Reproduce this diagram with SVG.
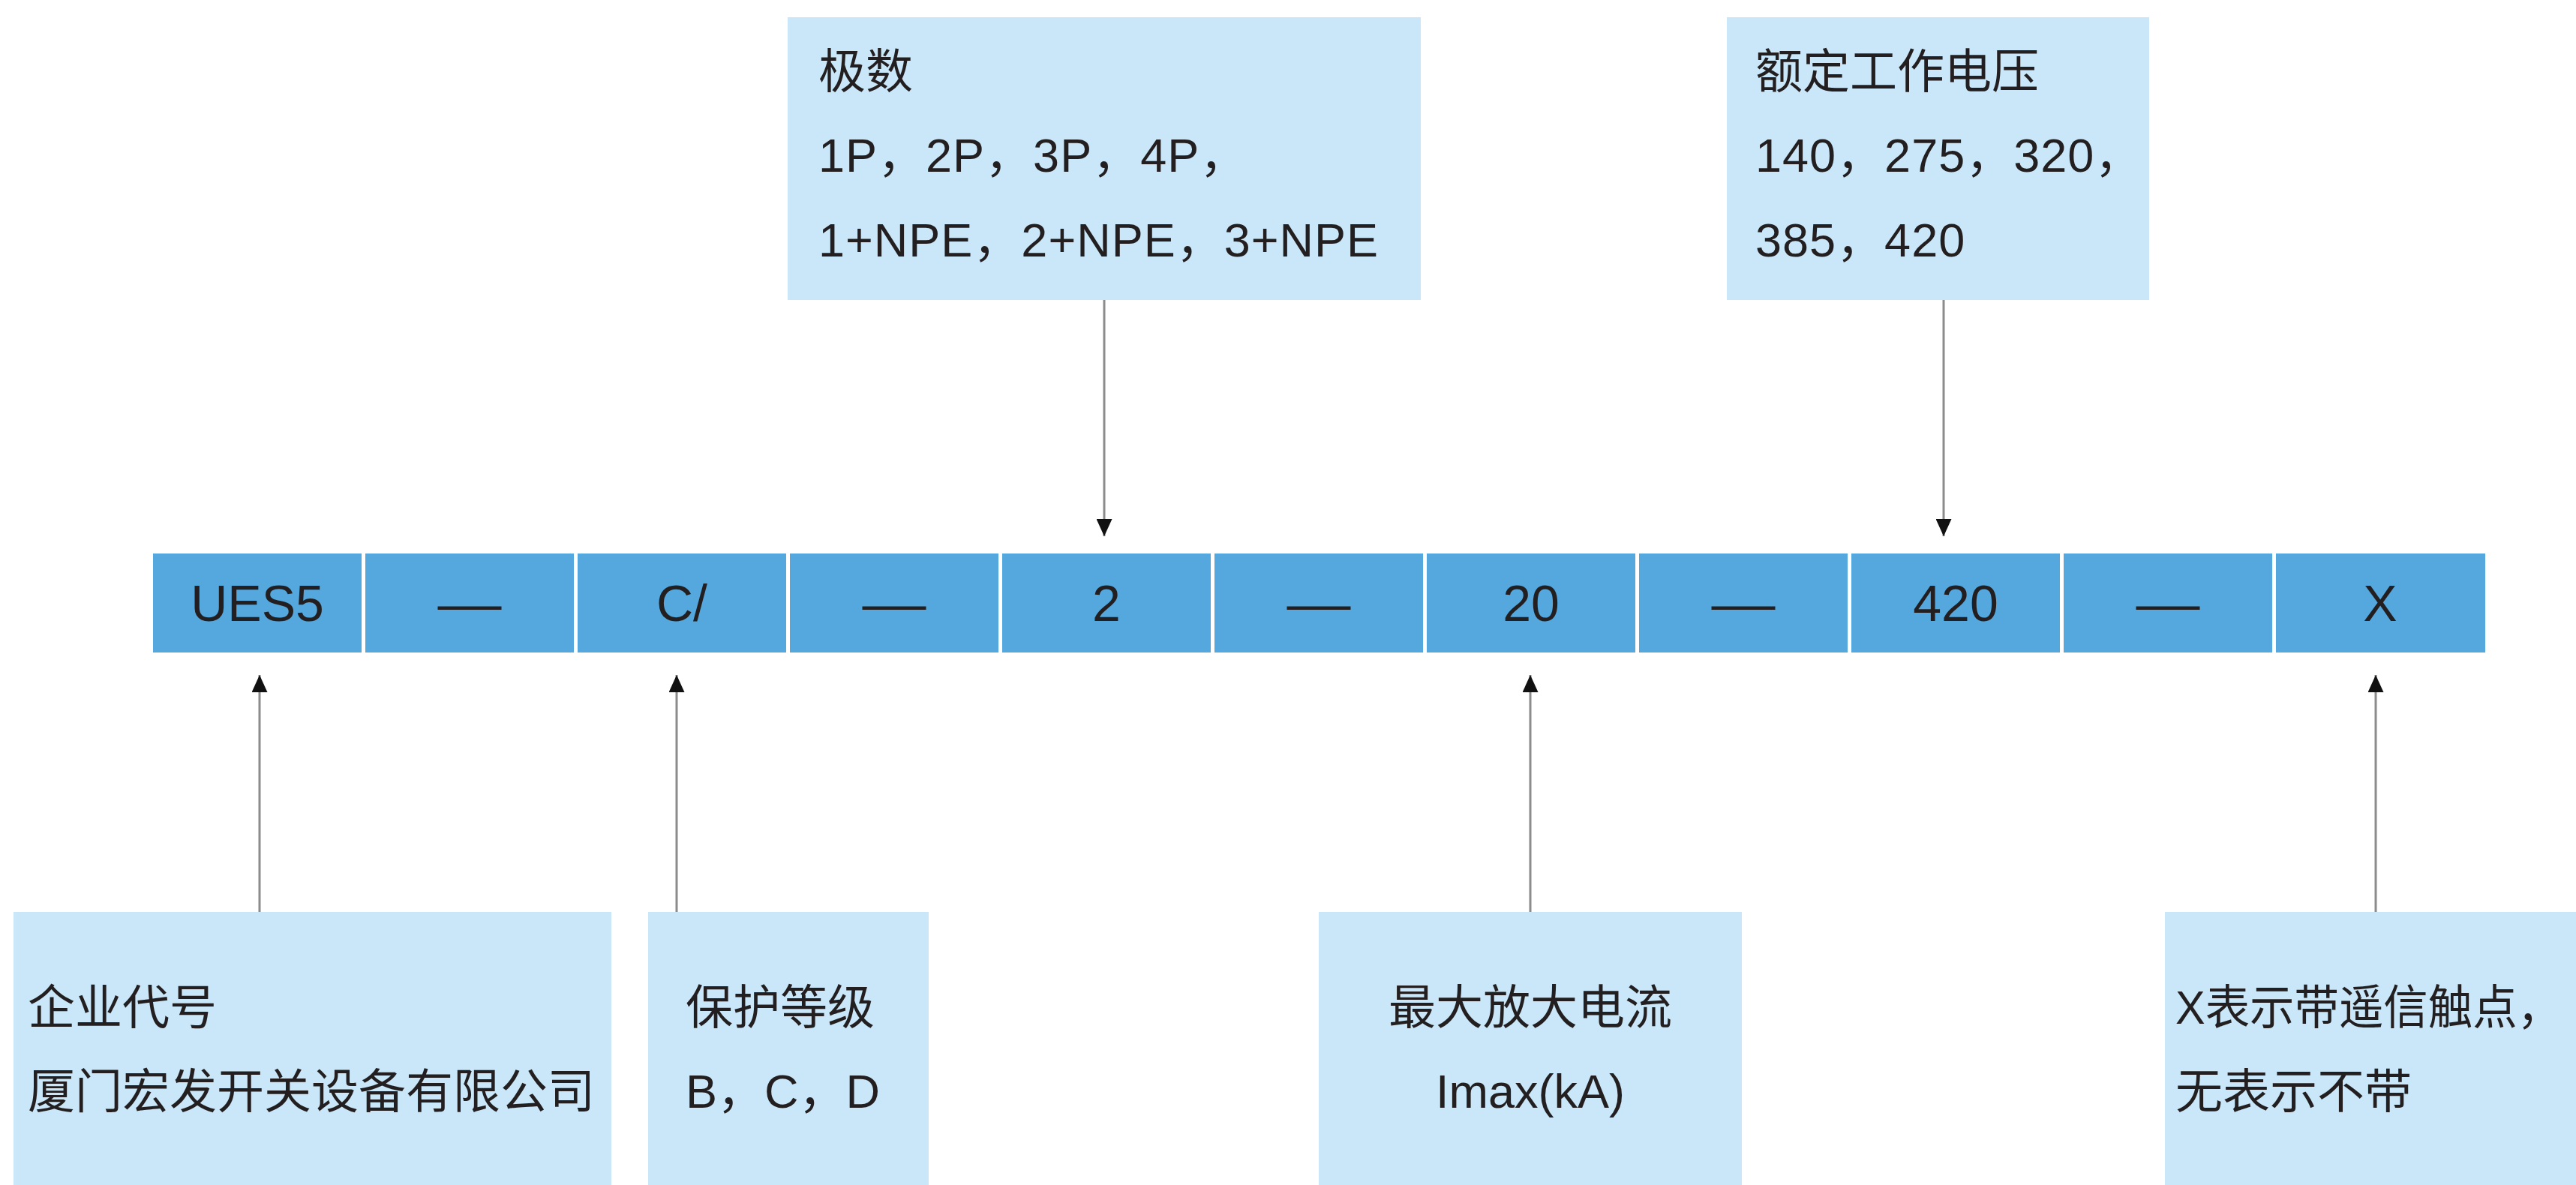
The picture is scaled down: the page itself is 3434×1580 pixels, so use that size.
<svg xmlns="http://www.w3.org/2000/svg" width="3434" height="1580" viewBox="0 0 3434 1580">
<style>
.bg{fill:#ffffff}
.box{fill:#c9e7f8}
.cell{fill:#54a8de}
.t{font-family:"Liberation Sans","Noto Sans CJK SC",sans-serif;font-size:63px;fill:#231f20}
.c{font-family:"Liberation Sans","Noto Sans CJK SC",sans-serif;font-size:68px;fill:#231f20;text-anchor:middle}
.mid{text-anchor:middle}
.conn{stroke:#8c8c8c;stroke-width:3;fill:none;marker-end:url(#arr)}
</style>
<defs>
<marker id="arr" viewBox="0 0 23 21" refX="23" refY="10.5" markerWidth="23" markerHeight="21" markerUnits="userSpaceOnUse" orient="auto">
<path d="M0,0 L23,10.5 L0,21 z" fill="#111111"/>
</marker>
</defs>
<rect class="bg" x="0" y="0" width="3434" height="1580"/>

<g id="code-band">
<g id="cell-ues5"><rect class="cell" x="204" y="738" width="278" height="132"/><text class="c" x="343" y="828">UES5</text></g>
<g id="cell-dash1"><rect class="cell" x="487" y="738" width="278" height="132"/><text class="c" x="626" y="828" textLength="85" lengthAdjust="spacingAndGlyphs">—</text></g>
<g id="cell-c"><rect class="cell" x="770" y="738" width="278" height="132"/><text class="c" x="909" y="828">C/</text></g>
<g id="cell-dash2"><rect class="cell" x="1053" y="738" width="278" height="132"/><text class="c" x="1192" y="828" textLength="85" lengthAdjust="spacingAndGlyphs">—</text></g>
<g id="cell-2"><rect class="cell" x="1336" y="738" width="278" height="132"/><text class="c" x="1475" y="828">2</text></g>
<g id="cell-dash3"><rect class="cell" x="1619" y="738" width="278" height="132"/><text class="c" x="1758" y="828" textLength="85" lengthAdjust="spacingAndGlyphs">—</text></g>
<g id="cell-20"><rect class="cell" x="1902" y="738" width="278" height="132"/><text class="c" x="2041" y="828">20</text></g>
<g id="cell-dash4"><rect class="cell" x="2185" y="738" width="278" height="132"/><text class="c" x="2324" y="828" textLength="85" lengthAdjust="spacingAndGlyphs">—</text></g>
<g id="cell-420"><rect class="cell" x="2468" y="738" width="278" height="132"/><text class="c" x="2607" y="828">420</text></g>
<g id="cell-dash5"><rect class="cell" x="2751" y="738" width="278" height="132"/><text class="c" x="2890" y="828" textLength="85" lengthAdjust="spacingAndGlyphs">—</text></g>
<g id="cell-x"><rect class="cell" x="3034" y="738" width="279" height="132"/><text class="c" x="3173" y="828">X</text></g>
</g>

<g id="node-poles">
<rect class="box" x="1050" y="23" width="844" height="377"/>
<text class="t" x="1091" y="117">极数</text>
<text class="t" x="1091" y="229" letter-spacing="1">1P，2P，3P，4P，</text>
<text class="t" x="1091" y="342" letter-spacing="1">1+NPE，2+NPE，3+NPE</text>
</g>

<g id="node-voltage">
<rect class="box" x="2302" y="23" width="563" height="377"/>
<text class="t" x="2340" y="117">额定工作电压</text>
<text class="t" x="2340" y="229" letter-spacing="1">140，275，320，</text>
<text class="t" x="2340" y="342" letter-spacing="1">385，420</text>
</g>

<g id="node-company">
<rect class="box" x="18" y="1216" width="797" height="364"/>
<text class="t" x="37" y="1365">企业代号</text>
<text class="t" x="37" y="1477">厦门宏发开关设备有限公司</text>
</g>

<g id="node-protection">
<rect class="box" x="864" y="1216" width="374" height="364"/>
<text class="t" x="914" y="1365">保护等级</text>
<text class="t" x="914" y="1477">B，C，D</text>
</g>

<g id="node-current">
<rect class="box" x="1758" y="1216" width="564" height="364"/>
<text class="t mid" x="2040" y="1365">最大放大电流</text>
<text class="t mid" x="2040" y="1477">Imax(kA)</text>
</g>

<g id="node-contact">
<rect class="box" x="2886" y="1216" width="548" height="364"/>
<text class="t" x="2900" y="1365" textLength="515" lengthAdjust="spacingAndGlyphs">X表示带遥信触点，</text>
<text class="t" x="2900" y="1477">无表示不带</text>
</g>

<g id="connectors">
<line class="conn" x1="1472" y1="400" x2="1472" y2="715"/>
<line class="conn" x1="2591" y1="400" x2="2591" y2="715"/>
<line class="conn" x1="346" y1="1216" x2="346" y2="900"/>
<line class="conn" x1="902" y1="1216" x2="902" y2="900"/>
<line class="conn" x1="2040" y1="1216" x2="2040" y2="900"/>
<line class="conn" x1="3167" y1="1216" x2="3167" y2="900"/>
</g>
</svg>
